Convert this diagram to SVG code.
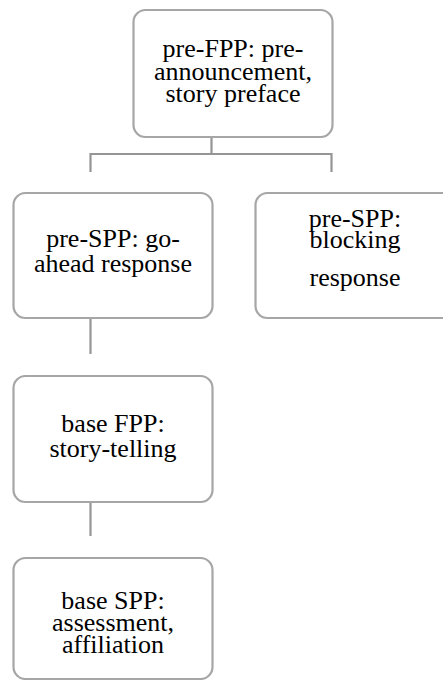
<svg xmlns="http://www.w3.org/2000/svg" width="443" height="680" viewBox="0 0 443 680">
  <style>
    .box { fill: #ffffff; stroke: #a6a6a6; stroke-width: 2.2; }
    .lbl { font-family: "Liberation Serif", "Times New Roman", "DejaVu Serif", serif; font-size: 26px; fill: #000000; text-anchor: middle; }
    .conn { fill: none; stroke: #959595; stroke-width: 2.2; }
  </style>
  <rect width="443" height="680" fill="#ffffff"/>

  <!-- tree connectors -->
  <g id="connectors">
    <path class="conn" d="M211.5,137 V154 M90.5,154 H331.5 M90.5,153 V172 M331.5,153 V172"/>
    <path class="conn" d="M90.5,318 V354"/>
    <path class="conn" d="M90.5,502 V536"/>
  </g>

  <g id="pre-fpp">
    <rect class="box" x="133.5" y="10" width="199" height="127" rx="12"/>
    <text class="lbl" x="233" y="57">pre-FPP: pre-</text>
    <text class="lbl" x="233" y="80">announcement,</text>
    <text class="lbl" x="233" y="102">story preface</text>
  </g>

  <g id="pre-spp-go-ahead">
    <rect class="box" x="13.5" y="193" width="199" height="125" rx="12"/>
    <text class="lbl" x="113" y="247">pre-SPP: go-</text>
    <text class="lbl" x="113" y="272">ahead response</text>
  </g>

  <g id="pre-spp-blocking">
    <rect class="box" x="255.5" y="193" width="199" height="125" rx="12"/>
    <text class="lbl" x="355" y="227">pre-SPP:</text>
    <text class="lbl" x="355" y="248">blocking</text>
    <text class="lbl" x="355" y="286">response</text>
  </g>

  <g id="base-fpp">
    <rect class="box" x="13.5" y="376" width="199" height="126" rx="12"/>
    <text class="lbl" x="113" y="432">base FPP:</text>
    <text class="lbl" x="113" y="457">story-telling</text>
  </g>

  <g id="base-spp">
    <rect class="box" x="13.5" y="558" width="199" height="121" rx="12"/>
    <text class="lbl" x="113" y="609">base SPP:</text>
    <text class="lbl" x="113" y="631">assessment,</text>
    <text class="lbl" x="113" y="653">affiliation</text>
  </g>
</svg>
